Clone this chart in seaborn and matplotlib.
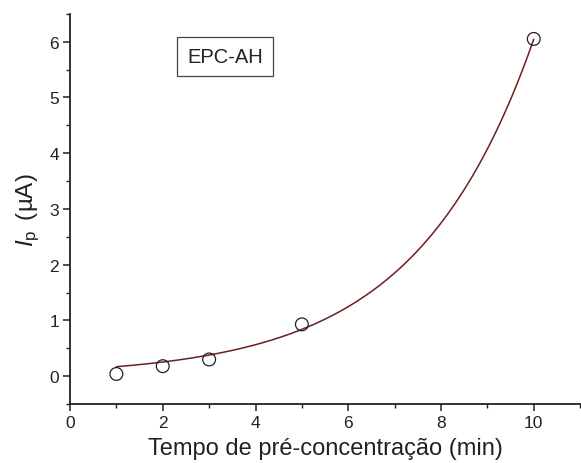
"""Peak current vs pre-concentration time (EPC-AH)."""
import matplotlib
matplotlib.use("Agg")
import matplotlib.pyplot as plt
import numpy as np
import seaborn as sns
from matplotlib.ticker import MultipleLocator

# measured points
time_min = [1, 2, 3, 5, 10]
current_ua = [0.04, 0.18, 0.30, 0.93, 6.05]

# exponential growth fit  y = y0 + A * exp(x / t1), parameters
fit_y0 = -0.005
fit_a = 0.118
fit_t1 = 2.54
fit_range = (1, 10)

sns.set_theme(style="ticks")
plt.rcParams["font.family"] = ["Liberation Sans", "DejaVu Sans"]
plt.rcParams["mathtext.fontset"] = "custom"
plt.rcParams["mathtext.it"] = "Liberation Sans:italic"
plt.rcParams["mathtext.rm"] = "Liberation Sans"

fig = plt.figure(figsize=(5.81, 4.64), dpi=100)
ax = fig.add_axes([0.1205, 0.127, 0.878, 0.841])

xfit = np.linspace(fit_range[0], fit_range[1], 300)
yfit = fit_y0 + fit_a * np.exp(xfit / fit_t1)
sns.lineplot(x=xfit, y=yfit, ax=ax, color="#6b1f1f", linewidth=1.1)

sns.scatterplot(x=time_min, y=current_ua, ax=ax, marker="o", s=85,
                facecolor="none", edgecolor="#222222", linewidth=0.9, zorder=3)

ax.set_xlim(0, 11)
ax.set_ylim(-0.5, 6.5)
ax.xaxis.set_major_locator(MultipleLocator(2))
ax.xaxis.set_minor_locator(MultipleLocator(1))
ax.yaxis.set_major_locator(MultipleLocator(1))
ax.yaxis.set_minor_locator(MultipleLocator(0.5))
ax.tick_params(which="major", direction="out", length=5, width=1.1,
               labelsize=12.5, colors="#222222", pad=3)
ax.tick_params(which="minor", direction="out", length=2.8, width=1.0, colors="#222222")
for side in ("top", "right"):
    ax.spines[side].set_visible(False)
for side in ("left", "bottom"):
    ax.spines[side].set_linewidth(1.3)
    ax.spines[side].set_color("#222222")

ax.set_xlabel("Tempo de pré-concentração (min)", fontsize=17, color="#222222", labelpad=5)
ax.set_ylabel(r"$I_{\mathrm{p}}\,$ (µA)", fontsize=17.5, color="#222222", labelpad=5)

ax.text(3.35, 5.73, "EPC-AH", fontsize=14.5, color="#222222", ha="center", va="center",
        bbox=dict(boxstyle="square,pad=0.5", facecolor="white", edgecolor="#444444",
                  linewidth=0.9))

fig.savefig("out.png", dpi=100)
plt.close(fig)
